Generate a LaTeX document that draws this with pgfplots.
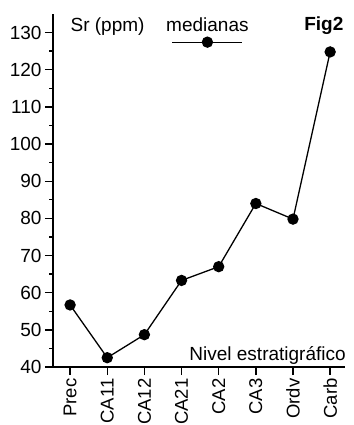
\documentclass[border=0pt]{standalone}
\usepackage{pgfplots}
\pgfplotsset{compat=1.18}
\usepackage{fontspec}
\setmainfont{Liberation Sans}
\begin{document}
\begin{tikzpicture}
\begin{axis}[
  scale only axis,
  width=292pt, height=353pt,
  xmin=-0.46, xmax=7.4,
  ymin=40, ymax=135,
  axis x line*=bottom, axis y line*=left,
  axis line style={line width=1.6pt, -},
  xtick={0,1,2,3,4,5,6,7},
  xticklabels={Prec,CA11,CA12,CA21,CA2,CA3,Ordv,Carb},
  x tick label style={rotate=90, anchor=east, font=\fontsize{18.5}{20}\selectfont},
  ytick={40,50,...,130},
  minor y tick num=1,
  y tick label style={font=\fontsize{19}{21}\selectfont},
  /pgf/number format/assume math mode=true,
  tick align=outside,
  major tick length=8pt, minor tick length=4pt,
  tick style={line width=1.4pt, black},
  clip=false,
  legend style={draw=none, fill=none, at={(axis cs:3.75,125.9)}, anchor=south, inner sep=0pt, outer sep=0pt},
  legend image code/.code={
    \draw[line width=1.3pt] (-35pt,0) -- (35pt,0);
    \fill (0,0) circle (5pt);
    \node[anchor=base, inner sep=0pt, font=\fontsize{19}{21}\selectfont] at (0,11pt) {medianas};
  },
]
\addplot[black, line width=1.3pt, mark=*, mark size=5pt] coordinates {
  (0,56.7) (1,42.5) (2,48.7) (3,63.3) (4,67.0) (5,84.0) (6,79.8) (7,124.8)
};
\addlegendentry{}
\coordinate (ll) at (rel axis cs:0,0);
\coordinate (ur) at (rel axis cs:1,1);
\node[anchor=west, font=\fontsize{19}{21}\selectfont] at (axis cs:-0.08,131.5) {Sr (ppm)};
\node[anchor=east, font=\bfseries\fontsize{19}{21}\selectfont] at (axis cs:7.45,131.8) {Fig2};
\node[anchor=south east, inner sep=2pt, font=\fontsize{19}{21}\selectfont] at (rel axis cs:1.01,0) {Nivel estratigráfico};
\end{axis}
\pgfresetboundingbox
\path ([shift={(-53pt,-58pt)}]ll) rectangle ([shift={(8pt,14pt)}]ur);
\end{tikzpicture}
\end{document}
